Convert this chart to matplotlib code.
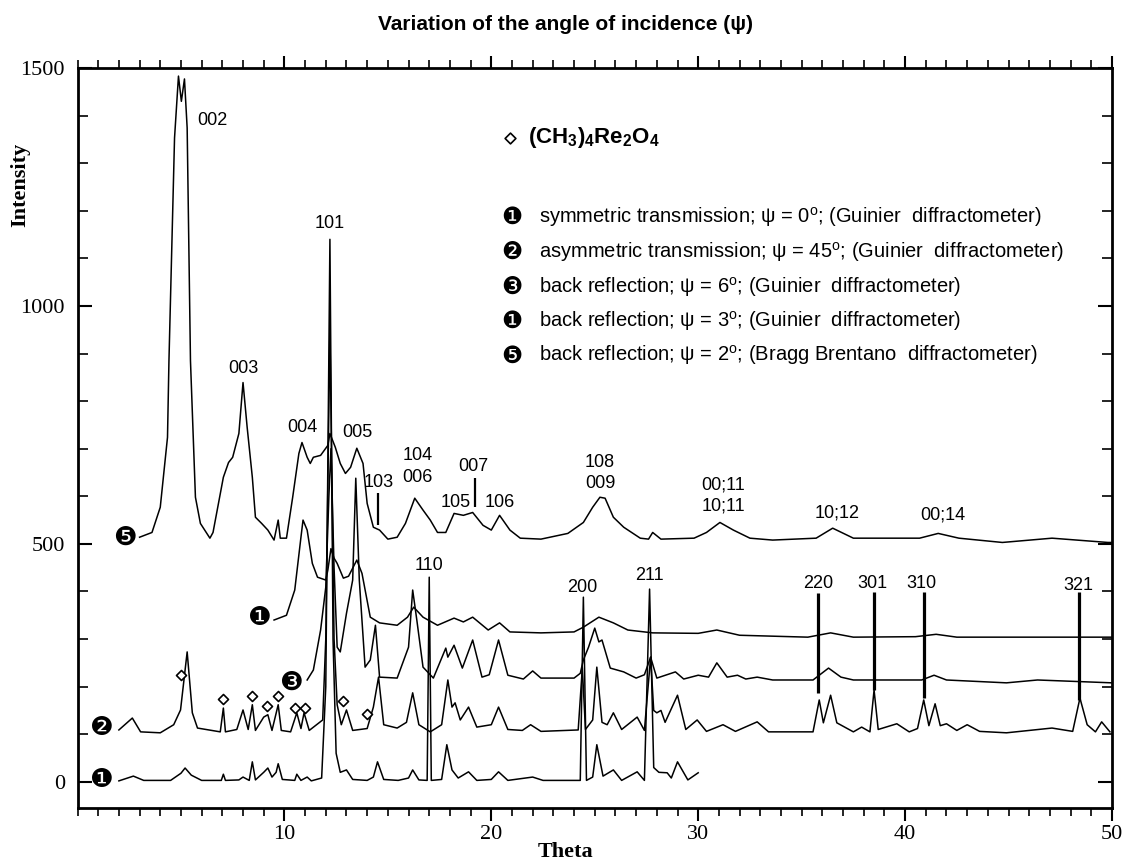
import matplotlib
matplotlib.use("Agg")
import matplotlib.pyplot as plt
from matplotlib.ticker import MultipleLocator

plt.rcParams["mathtext.fontset"] = "custom"
plt.rcParams["mathtext.rm"] = "Liberation Sans"
plt.rcParams["mathtext.bf"] = "Liberation Sans:bold"

# ---- diffraction patterns (theta, intensity) ----
# 1: symmetric transmission, psi = 0
psi0_pts = [(2.0, 2), (2.7, 12), (3.2, 3), (4.5, 3), (5.0, 18), (5.2, 29), (5.5, 14), (6.0, 3),
            (6.95, 3), (7.05, 16), (7.15, 3), (7.8, 4), (8.0, 10), (8.3, 3), (8.45, 42), (8.6, 4),
            (9.0, 20), (9.2, 29), (9.4, 10), (9.6, 20), (9.7, 38), (9.9, 5), (10.5, 3), (10.6, 16),
            (10.8, 3), (11.1, 10), (11.3, 2), (11.8, 8), (12.0, 200), (12.2, 1140), (12.35, 300),
            (12.5, 60), (12.7, 20), (13.0, 25), (13.3, 5), (14.0, 3), (14.3, 10), (14.5, 42),
            (14.8, 5), (15.5, 3), (16.0, 8), (16.2, 25), (16.5, 4), (16.9, 3), (17.0, 430),
            (17.1, 3), (17.6, 5), (17.85, 78), (18.1, 25), (18.4, 8), (18.9, 21), (19.3, 3),
            (20.0, 5), (20.35, 21), (20.8, 3), (22.0, 10), (22.5, 3), (24.3, 3), (24.45, 388),
            (24.6, 3), (24.9, 10), (25.1, 78), (25.4, 12), (25.9, 25), (26.3, 3), (27.05, 21),
            (27.4, 3), (27.65, 405), (27.85, 30), (28.1, 20), (28.5, 19), (28.7, 8), (29.0, 42),
            (29.5, 4), (30.0, 19)]

# 2: asymmetric transmission, psi = 45
psi45_pts = [(2.0, 109), (2.65, 134), (3.05, 105), (4.0, 103), (4.65, 120), (4.98, 151), (5.3, 273),
             (5.55, 145), (5.8, 113), (6.9, 105), (7.05, 155), (7.15, 105), (7.7, 110), (8.0, 151),
             (8.25, 110), (8.45, 162), (8.6, 108), (9.0, 136), (9.2, 141), (9.4, 108), (9.7, 162),
             (9.85, 108), (10.3, 105), (10.6, 145), (10.8, 112), (10.95, 145), (11.2, 108),
             (11.85, 130), (12.0, 300), (12.2, 950), (12.4, 300), (12.55, 162), (12.75, 120),
             (13.0, 151), (13.3, 108), (14.0, 112), (14.3, 157), (14.55, 220), (14.8, 120),
             (15.45, 113), (15.9, 125), (16.2, 187), (16.5, 120), (17.05, 105), (17.6, 120),
             (17.9, 214), (18.1, 157), (18.25, 166), (18.5, 130), (18.9, 157), (19.3, 115),
             (20.0, 120), (20.35, 157), (20.8, 110), (21.5, 108), (21.9, 120), (22.4, 106),
             (24.2, 109), (24.4, 240), (24.55, 110), (24.9, 130), (25.1, 241), (25.35, 125),
             (25.6, 120), (25.9, 145), (26.3, 110), (27.05, 136), (27.4, 108), (27.7, 262),
             (27.85, 150), (28.0, 145), (28.2, 150), (28.4, 125), (29.0, 182), (29.4, 110),
             (29.95, 130), (30.4, 106), (31.2, 120), (31.8, 106), (32.85, 126), (33.4, 105),
             (35.55, 105), (35.85, 172), (36.05, 124), (36.4, 182), (36.7, 124), (37.5, 105),
             (37.9, 115), (38.3, 105), (38.5, 193), (38.7, 110), (39.6, 122), (40.2, 105),
             (40.6, 112), (40.9, 172), (41.15, 118), (41.45, 164), (41.7, 118), (42.0, 122),
             (42.5, 108), (43.0, 120), (43.6, 106), (44.9, 103), (47.1, 113), (48.1, 106),
             (48.45, 176), (48.8, 120), (49.2, 105), (49.5, 126), (49.9, 105)]

# 3: back reflection, psi = 6
psi6_pts = [(11.1, 214), (11.4, 235), (11.75, 319), (12.0, 409), (12.15, 600), (12.25, 700),
            (12.4, 450), (12.55, 283), (12.7, 273), (13.0, 354), (13.3, 424), (13.45, 638),
            (13.62, 424), (13.9, 241), (14.15, 256), (14.4, 329), (14.6, 220), (15.45, 218),
            (16.0, 283), (16.2, 403), (16.4, 340), (16.7, 241), (17.2, 218), (17.8, 281),
            (17.9, 262), (18.2, 287), (18.6, 239), (19.1, 298), (19.55, 220), (19.9, 225),
            (20.35, 298), (20.8, 224), (21.55, 216), (22.0, 233), (22.4, 218), (24.0, 218),
            (24.3, 228), (24.45, 256), (24.7, 283), (25.0, 323), (25.2, 294), (25.35, 298),
            (25.75, 239), (26.4, 231), (27.0, 218), (27.4, 225), (27.7, 262), (28.0, 218),
            (28.9, 231), (29.3, 216), (30.0, 224), (30.5, 220), (30.9, 250), (31.4, 220),
            (31.9, 224), (32.3, 216), (32.85, 220), (33.6, 214), (35.55, 214), (36.3, 239),
            (36.9, 220), (37.5, 214), (40.8, 214), (41.4, 224), (42.0, 214), (44.9, 208),
            (46.4, 214), (50.0, 208)]

# 4: back reflection, psi = 3
psi3_pts = [(9.5, 340), (10.1, 350), (10.5, 403), (10.8, 514), (10.9, 550), (11.1, 529),
            (11.35, 459), (11.6, 430), (12.0, 424), (12.1, 445), (12.25, 490), (12.4, 470),
            (12.55, 459), (12.85, 428), (13.1, 432), (13.5, 466), (13.75, 438), (14.15, 346),
            (14.6, 334), (15.45, 329), (15.95, 346), (16.25, 367), (16.7, 346), (17.4, 329),
            (18.2, 344), (18.65, 336), (19.1, 346), (19.85, 319), (20.4, 334), (20.9, 315),
            (22.4, 313), (24.0, 315), (24.45, 325), (25.2, 346), (25.9, 334), (26.6, 319),
            (27.8, 313), (30.0, 312), (30.9, 319), (32.0, 308), (35.3, 304), (36.4, 313),
            (37.5, 304), (40.5, 305), (41.5, 310), (42.5, 304), (50.0, 304)]

# 5: back reflection, psi = 2 (Bragg Brentano)
psi2_pts = [(3.0, 514), (3.6, 524), (4.0, 577), (4.35, 724), (4.42, 885), (4.69, 1353), (4.88, 1483),
            (5.02, 1430), (5.17, 1477), (5.3, 1374), (5.46, 885), (5.7, 598), (5.94, 543),
            (6.4, 512), (6.55, 524), (7.05, 640), (7.3, 671), (7.5, 682), (7.8, 732), (8.0, 839),
            (8.2, 745), (8.45, 640), (8.6, 556), (8.9, 543), (9.2, 529), (9.5, 508), (9.7, 550),
            (9.8, 512), (10.1, 512), (10.4, 598), (10.7, 690), (10.85, 713), (11.1, 682),
            (11.25, 669), (11.4, 682), (11.75, 686), (12.1, 707), (12.2, 732), (12.46, 703),
            (12.7, 669), (12.95, 648), (13.2, 661), (13.5, 701), (13.8, 669), (14.0, 585),
            (14.3, 535), (14.6, 529), (15.0, 510), (15.45, 514), (15.85, 543), (16.3, 596),
            (16.7, 571), (17.05, 550), (17.4, 524), (17.8, 524), (18.2, 564), (18.65, 560),
            (19.1, 566), (19.6, 539), (20.0, 529), (20.4, 560), (20.9, 529), (21.4, 512),
            (22.4, 510), (23.7, 522), (24.45, 545), (24.9, 577), (25.25, 598), (25.5, 596),
            (25.9, 556), (26.4, 535), (27.2, 512), (27.6, 510), (27.8, 524), (28.2, 510),
            (29.8, 512), (30.4, 524), (31.05, 545), (31.7, 529), (32.5, 512), (33.6, 508),
            (35.7, 512), (36.5, 533), (37.5, 512), (40.7, 512), (41.6, 522), (42.6, 512),
            (44.7, 503), (47.1, 512), (49.8, 503), (50.0, 503)]

# (CH3)4Re2O4 reflections marked on pattern 2
diamond_x = [4.98, 7.05, 8.45, 9.15, 9.7, 10.5, 11.0, 12.85, 14.0]
diamond_y = [224, 174, 180, 159, 180, 155, 155, 170, 143]

# hkl labels: (text, theta, intensity)
hkl_labels = [("002", 6.52, 1389), ("101", 12.17, 1173), ("003", 8.0, 868), ("004", 10.87, 745),
              ("005", 13.53, 734), ("103", 14.54, 629), ("104", 16.42, 686), ("006", 16.42, 640),
              ("105", 18.26, 587), ("007", 19.13, 663), ("106", 20.43, 587), ("108", 25.26, 671),
              ("009", 25.26, 627), ("00;11", 31.2, 623), ("10;11", 31.2, 579),
              ("10;12", 36.7, 564), ("00;14", 41.8, 560), ("110", 17.0, 455), ("200", 24.4, 409),
              ("211", 27.66, 434), ("220", 35.8, 417), ("301", 38.4, 417), ("310", 40.8, 417),
              ("321", 48.36, 413)]

# thick index sticks (theta, top, bottom) and thin ones
thick_sticks = [(35.8, 396, 187), (38.5, 399, 193), (40.9, 399, 176), (48.4, 399, 172)]
thin_sticks = [(14.5, 606, 539), (19.2, 638, 577)]

# circled curve numbers (glyph, theta, intensity)
curve_tags = [("❺", 2.29, 512), ("❶", 8.8, 344), ("❸", 10.3, 208), ("❷", 1.18, 113), ("❶", 1.18, 4)]

legend_tags = ["❶", "❷", "❸", "❶", "❺"]
legend_texts = [r"symmetric transmission; ψ = 0$^\mathrm{o}$; (Guinier  diffractometer)",
                r"asymmetric transmission; ψ = 45$^\mathrm{o}$; (Guinier  diffractometer)",
                r"back reflection; ψ = 6$^\mathrm{o}$; (Guinier  diffractometer)",
                r"back reflection; ψ = 3$^\mathrm{o}$; (Guinier  diffractometer)",
                r"back reflection; ψ = 2$^\mathrm{o}$; (Bragg Brentano  diffractometer)"]
legend_y = [1187, 1114, 1040, 969, 896]

fig = plt.figure(figsize=(11.26, 8.64), dpi=100)
ax = fig.add_axes([77.5 / 1126, 1 - 808 / 864, (1112 - 77.5) / 1126, (808 - 68) / 864])

for pts in [psi0_pts, psi45_pts, psi6_pts, psi3_pts, psi2_pts]:
    xs, ys = zip(*pts)
    ax.plot(xs, ys, color="black", lw=1.1)

ax.scatter(diamond_x, diamond_y, marker="D", s=26, facecolor="white", edgecolor="black",
           linewidths=1.2, zorder=3)

for x, top, bot in thick_sticks:
    ax.vlines(x, bot, top, color="black", lw=2.3)
for x, top, bot in thin_sticks:
    ax.vlines(x, bot, top, color="black", lw=1.6)

for txt, x, y in hkl_labels:
    ax.text(x, y, txt, ha="center", va="center", fontsize=13, family="Liberation Sans")

for g, x, y in curve_tags:
    ax.text(x, y, g, ha="center", va="center", fontsize=19, family="DejaVu Sans")

# legend block
ax.scatter([20.9], [1353], marker="D", s=30, facecolor="white", edgecolor="black", linewidths=1.2)
ax.text(21.75, 1353, r"(CH$_\mathbf{3}$)$_\mathbf{4}$Re$_\mathbf{2}$O$_\mathbf{4}$", ha="left",
        va="center", fontsize=16, fontweight="bold", family="Liberation Sans")
for g, t, y in zip(legend_tags, legend_texts, legend_y):
    ax.text(21.0, y, g, ha="center", va="center", fontsize=17, family="DejaVu Sans")
    ax.text(22.3, y, t, ha="left", va="center", fontsize=14.5, family="Liberation Sans")

ax.set_xlim(0, 50)
ax.set_ylim(-55, 1500)
ax.xaxis.set_major_locator(MultipleLocator(10))
ax.xaxis.set_minor_locator(MultipleLocator(1))
ax.yaxis.set_major_locator(MultipleLocator(500))
ax.yaxis.set_minor_locator(MultipleLocator(100))
ax.set_xticks([10, 20, 30, 40, 50])
ax.tick_params(axis="x", which="both", direction="out", top=True, bottom=True, labeltop=False)
ax.tick_params(axis="x", which="major", length=9, width=1.5)
ax.tick_params(axis="x", which="minor", length=6, width=1.2)
ax.tick_params(axis="y", which="both", direction="in", left=True, right=True)
ax.tick_params(axis="y", which="major", length=10, width=1.5, pad=9)
ax.tick_params(axis="y", which="minor", length=7, width=1.2)
for lab in ax.get_xticklabels() + ax.get_yticklabels():
    lab.set_family("Liberation Serif")
    lab.set_fontsize(16)
for sp in ax.spines.values():
    sp.set_linewidth(2)

fig.text(565 / 1126, 1 - 25 / 864, "Variation of the angle of incidence (ψ)", ha="center",
         va="center", fontsize=15, fontweight="bold", family="Liberation Sans")
fig.text(20 / 1126, 1 - 185 / 864, "Intensity", rotation=90, ha="center", va="center",
         fontsize=16, fontweight="bold", family="Liberation Serif")
fig.text(565 / 1126, 1 - 852 / 864, "Theta", ha="center", va="center",
         fontsize=16, fontweight="bold", family="Liberation Serif")

fig.savefig("out.png", dpi=100)
